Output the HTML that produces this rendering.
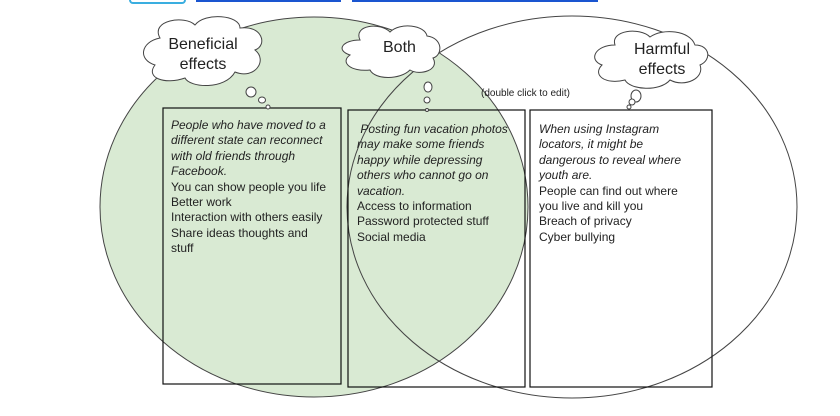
<!DOCTYPE html>
<html><head><style>
body{margin:0;background:#fff;width:840px;height:416px;overflow:hidden;font-family:"Liberation Sans",sans-serif}
.t{position:absolute;font-size:12px;line-height:15.4px;color:#222}
i{font-style:italic}
</style></head><body>
<svg width="840" height="416" style="position:absolute;left:0;top:0" xmlns="http://www.w3.org/2000/svg">
<rect x="130" y="-6" width="55" height="9" rx="3" fill="none" stroke="#3aaee0" stroke-width="2"/>
<line x1="196" y1="1" x2="341" y2="1" stroke="#1a55d0" stroke-width="2"/>
<line x1="352" y1="1" x2="598" y2="1" stroke="#1a55d0" stroke-width="2"/>
<ellipse cx="314" cy="207" rx="214" ry="190" fill="#d9ead3" stroke="#444" stroke-width="1"/>
<ellipse cx="572" cy="207" rx="225" ry="191" fill="none" stroke="#444" stroke-width="1"/>
<g fill="none" stroke="#111" stroke-width="1.2">
<rect x="163" y="108" width="178" height="276"/>
<rect x="348" y="110" width="177" height="277"/>
<rect x="530" y="110" width="182" height="277"/>
</g>
<g fill="#fff" stroke="#444" stroke-width="1">
<path d="M160 38 C150 20 185 15 195 25 C205 12 240 15 240 28 C262 25 268 45 255 50 C268 60 255 80 235 72 C225 90 190 88 185 78 C165 85 145 78 155 65 C138 60 140 42 160 38Z"/>
<path d="M360 40 C353 25 380 22 390 32 C400 22 425 25 427 36 C443 38 443 55 433 58 C440 70 420 76 410 70 C400 80 375 80 370 70 C350 72 340 62 350 55 C335 50 343 40 360 40Z"/>
<path d="M615 45 C610 30 640 27 650 37 C662 28 690 30 695 45 C710 45 712 60 700 65 C705 78 685 88 670 80 C660 92 630 90 625 80 C605 85 592 75 602 65 C588 60 595 45 615 45Z"/>
<ellipse cx="251" cy="92" rx="5" ry="5"/><ellipse cx="262" cy="100" rx="3.5" ry="3"/><ellipse cx="268" cy="107" rx="2" ry="2"/>
<ellipse cx="428" cy="87" rx="4" ry="5"/><ellipse cx="427" cy="100" rx="3" ry="3"/><ellipse cx="427" cy="110" rx="1.5" ry="1.5"/>
<ellipse cx="636" cy="96" rx="5" ry="6"/><ellipse cx="632" cy="102" rx="3" ry="3"/><ellipse cx="629" cy="107" rx="2" ry="2"/>
</g>
</svg>
<div class="t" style="left:163px;top:35px;font-size:16px;line-height:20px;text-align:center;width:80px">Beneficial<br>effects</div>
<div class="t" style="left:383px;top:40px;font-size:16px">Both</div>
<div class="t" style="left:622px;top:40px;font-size:16px;line-height:20px;text-align:center;width:80px">Harmful<br>effects</div>
<div class="t" style="left:481px;top:86px;font-size:10px">(double click to edit)</div>
<div class="t" style="left:171px;top:118px;width:162px"><i>People who have moved to a different state can reconnect with old friends through Facebook.</i><br>You can show people you life<br>Better work<br>Interaction with others easily<br>Share ideas thoughts and stuff</div>
<div class="t" style="left:357px;top:122px;width:158px"><i>&nbsp;Posting fun vacation photos may make some friends happy while depressing others who cannot go on vacation.</i><br>Access to information<br>Password protected stuff<br>Social media</div>
<div class="t" style="left:539px;top:122px;width:155px"><i>When using Instagram locators, it might be dangerous to reveal where youth are.</i><br>People can find out where you live and kill you<br>Breach of privacy<br>Cyber bullying</div>
</body></html>
